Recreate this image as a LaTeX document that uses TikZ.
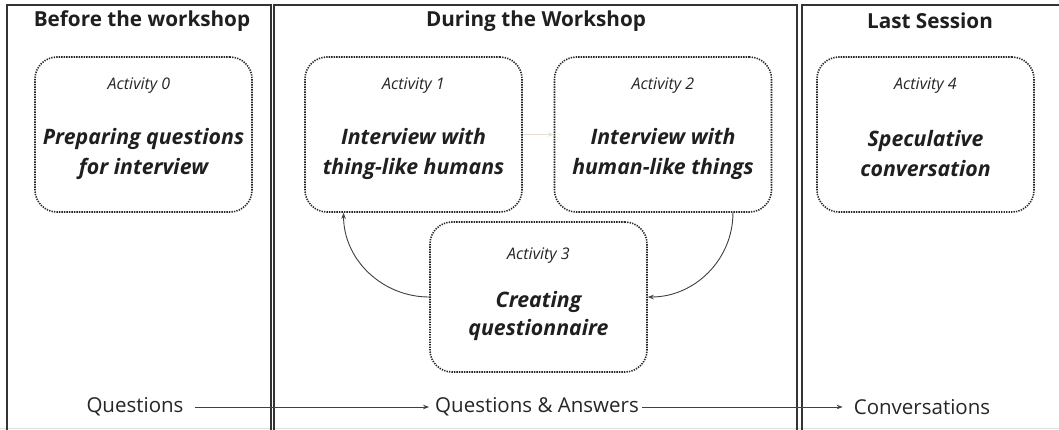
\documentclass[tikz,border=0pt]{standalone}
\usepackage{fontspec}
\setmainfont{Open Sans}
\usetikzlibrary{arrows.meta,calc}
\begin{document}
\begin{tikzpicture}[x=1pt,y=-1pt,
  panel/.style={draw=black!80,line width=1.7pt},
  actbox/.style={draw=black!85,line width=1.6pt,dash pattern=on 1.3pt off 1.2pt,rounded corners=22pt,minimum width=217pt,minimum height=155pt,inner sep=0pt},
  head/.style={font=\fontsize{20.7}{24}\selectfont\bfseries, text=black!88},
  actlabel/.style={font=\fontsize{16}{18}\selectfont\itshape,text=black!85},
  title/.style={font=\fontsize{21.3}{30}\selectfont\bfseries\itshape,align=center,text=black!88},
  flow/.style={font=\fontsize{20.5}{24}\selectfont,text=black!85,inner sep=3pt},
  arr/.style={draw=black!75,line width=0.9pt,-{Stealth[length=6pt,width=4.5pt]}},
]
\useasboundingbox (0,0) rectangle (1059,429);
\fill[white] (0,0) rectangle (1059,429);
\draw[black!12,line width=0.8pt] (0,428) -- (1059,428);
\draw[panel] (7,432) -- (7,5) -- (271,5) -- (271,432);
\draw[panel] (274,432) -- (274,5) -- (797,5) -- (797,432);
\draw[panel] (802,432) -- (802,5) -- (1062,5);

\node[head] (h0) at (142,21) {Before the workshop};
\node[head] (h1) at (536,21) {During the Workshop};
\node[head] (h2) at (930,21) {Last Session};

\node[actbox] (a0) at (143.5,134.5) {};
\node[actbox] (a1) at (413.5,134.5) {};
\node[actbox] (a2) at (663,134.5) {};
\node[actbox] (a4) at (925.5,134.5) {};
\node[actbox,minimum height=150pt] (a3) at (538.5,297) {};

\node[actlabel] (l0) at (139,86) {Activity 0};
\node[actlabel] (l1) at (413.5,86) {Activity 1};
\node[actlabel] (l2) at (663,86) {Activity 2};
\node[actlabel] (l4) at (925.5,86) {Activity 4};
\node[actlabel] (l3) at (538.5,256) {Activity 3};

\node[title] (t0) at (143.5,154) {Preparing questions\\for interview};
\node[title] (t1) at (413.5,154) {Interview with\\thing-like humans};
\node[title] (t2) at (663,154) {Interview with\\human-like things};
\node[title] (t4) at (925.5,154) {Speculative\\conversation};
\node[title,font=\fontsize{21.3}{28}\selectfont\bfseries\itshape] (t3) at (538.5,316) {Creating\\questionnaire};

\draw[arr,draw={rgb,255:red,232;green,224;blue,215}] (a1) -- (a2);
\coordinate (p1) at ($(a1.south west)!0.18!(a1.south east)$);
\coordinate (p2) at ($(a2.south west)!0.82!(a2.south east)$);
\draw[arr] (a3.west) to[out=180,in=-90] (p1);
\draw[arr] (p2) to[out=-90,in=0] (a3.east);

\node[flow] (q) at (135,407) {Questions};
\node[flow] (qa) at (537,407) {Questions \& Answers};
\node[flow] (c) at (922,407) {Conversations};
\draw[arr,shorten <=8pt,shorten >=3pt] (q) -- (qa);
\draw[arr,shorten >=8pt] (qa) -- (c);
\end{tikzpicture}
\end{document}
